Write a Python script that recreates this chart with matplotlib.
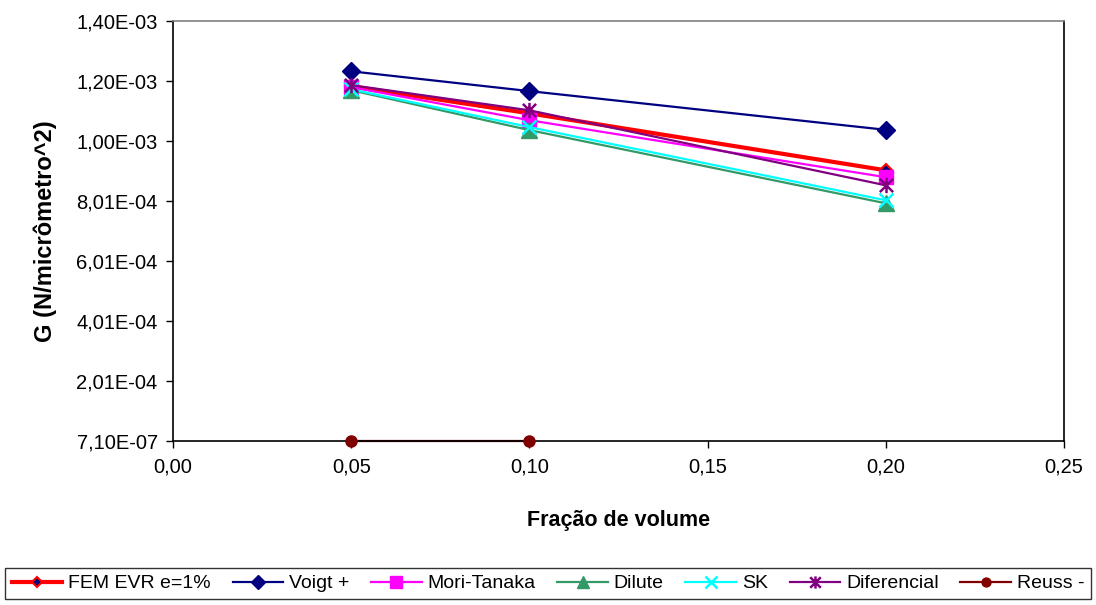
import matplotlib
matplotlib.use("Agg")
import matplotlib.pyplot as plt
from matplotlib.path import Path
from matplotlib.lines import Line2D
from matplotlib.ticker import FixedLocator, FuncFormatter

plt.rcParams['font.family'] = ['Liberation Sans', 'DejaVu Sans']

# Volume fractions and shear modulus G (N/micrometre^2) per model
fracao = [0.05, 0.10, 0.20]
fem_evr = [1.183e-3, 1.093e-3, 0.903e-3]
voigt = [1.233e-3, 1.167e-3, 1.038e-3]
mori_tanaka = [1.180e-3, 1.070e-3, 0.880e-3]
dilute = [1.170e-3, 1.037e-3, 0.793e-3]
sk = [1.173e-3, 1.047e-3, 0.803e-3]
diferencial = [1.187e-3, 1.103e-3, 0.853e-3]
fracao_reuss = [0.05, 0.10]
reuss = [7.10e-7, 7.10e-7]

y_min = 7.10e-7
y_step = 2.0e-4
y_ticks = [y_min + k * y_step for k in range(8)]
x_ticks = [0.0, 0.05, 0.10, 0.15, 0.20, 0.25]

# Asterisk marker: vertical bar plus two diagonals
ast_verts = [(0, -1), (0, 1), (-0.866, -0.866), (0.866, 0.866),
             (-0.866, 0.866), (0.866, -0.866)]
ast_codes = [Path.MOVETO, Path.LINETO] * 3
asterisk = Path(ast_verts, ast_codes)

fig = plt.figure(figsize=(10.96, 6.05), dpi=100)
ax = fig.add_axes([173 / 1096, 1 - 441 / 605, (1064 - 173) / 1096, (441 - 21) / 605])

series = [
    ("FEM EVR e=1%", fracao, fem_evr, dict(color='#FF0000', lw=3.0, marker='D', ms=6,
                                            mfc='#000080', mec='#FF0000', mew=1.5)),
    ("Voigt +", fracao, voigt, dict(color='#000080', lw=1.6, marker='D', ms=9,
                                     mfc='#000080', mec='#000080')),
    ("Mori-Tanaka", fracao, mori_tanaka, dict(color='#FF00FF', lw=1.6, marker='s', ms=10.5,
                                               mfc='#FF00FF', mec='#FF00FF')),
    ("Dilute", fracao, dilute, dict(color='#339966', lw=1.6, marker='^', ms=11,
                                     mfc='#339966', mec='#339966')),
    ("SK", fracao, sk, dict(color='#00FFFF', lw=1.6, marker='x', ms=10, mew=1.8)),
    ("Diferencial", fracao, diferencial, dict(color='#800080', lw=1.6, marker=asterisk, ms=11,
                                               mfc='none', mec='#800080', mew=1.8)),
    ("Reuss -", fracao_reuss, reuss, dict(color='#800000', lw=1.6, marker='o', ms=8,
                                           mfc='#800000', mec='#800000')),
]

handles = []
for label, xs, ys, style in series:
    if label.startswith("Reuss"):
        # line sits under the x axis, dots sit on top of it
        ax.plot(xs, ys, color=style['color'], lw=style['lw'], zorder=1.5, clip_on=False)
        ax.plot(xs, ys, linestyle='none', marker=style['marker'], ms=style['ms'],
                mfc=style['mfc'], mec=style['mec'], zorder=4, clip_on=False)
        h = Line2D([], [], label=label, **style)
    else:
        h, = ax.plot(xs, ys, label=label, clip_on=False, zorder=3, **style)
    handles.append(h)

ax.set_xlim(0, 0.25)
ax.set_ylim(y_min, y_ticks[-1])
ax.xaxis.set_major_locator(FixedLocator(x_ticks))
ax.yaxis.set_major_locator(FixedLocator(y_ticks))
ax.xaxis.set_major_formatter(FuncFormatter(lambda v, p: f"{v:.2f}".replace('.', ',')))
ax.yaxis.set_major_formatter(FuncFormatter(lambda v, p: f"{v:.2E}".replace('.', ',')))
ax.tick_params(axis='both', direction='out', length=5, width=1, labelsize=14.5,
               colors='black')
ax.tick_params(axis='x', pad=7)
ax.tick_params(axis='y', pad=6)

for side in ('left', 'bottom', 'right'):
    ax.spines[side].set_color('black')
    ax.spines[side].set_linewidth(1.2)
ax.spines['top'].set_color('#808080')
ax.spines['top'].set_linewidth(1.2)
for sp in ax.spines.values():
    sp.set_zorder(2.5)

ax.set_xlabel("Fração de volume", fontsize=15.5, fontweight='bold', labelpad=24)
ax.set_ylabel("G (N/micrômetro^2)", fontsize=17, fontweight='bold', labelpad=14)

leg = fig.legend(handles=handles, loc='center',
                 bbox_to_anchor=(5 / 1096, 1 - 601 / 605, 1086 / 1096, 35 / 605),
                 ncol=7, fontsize=14, frameon=True, fancybox=False, handlelength=2.6,
                 handletextpad=0.3, columnspacing=0.6, borderpad=0.35, markerscale=0.8,
                 mode='expand', borderaxespad=0.0)
leg.get_frame().set_edgecolor('black')
leg.get_frame().set_linewidth(1.0)

fig.savefig("out.png", dpi=100, facecolor='white')
